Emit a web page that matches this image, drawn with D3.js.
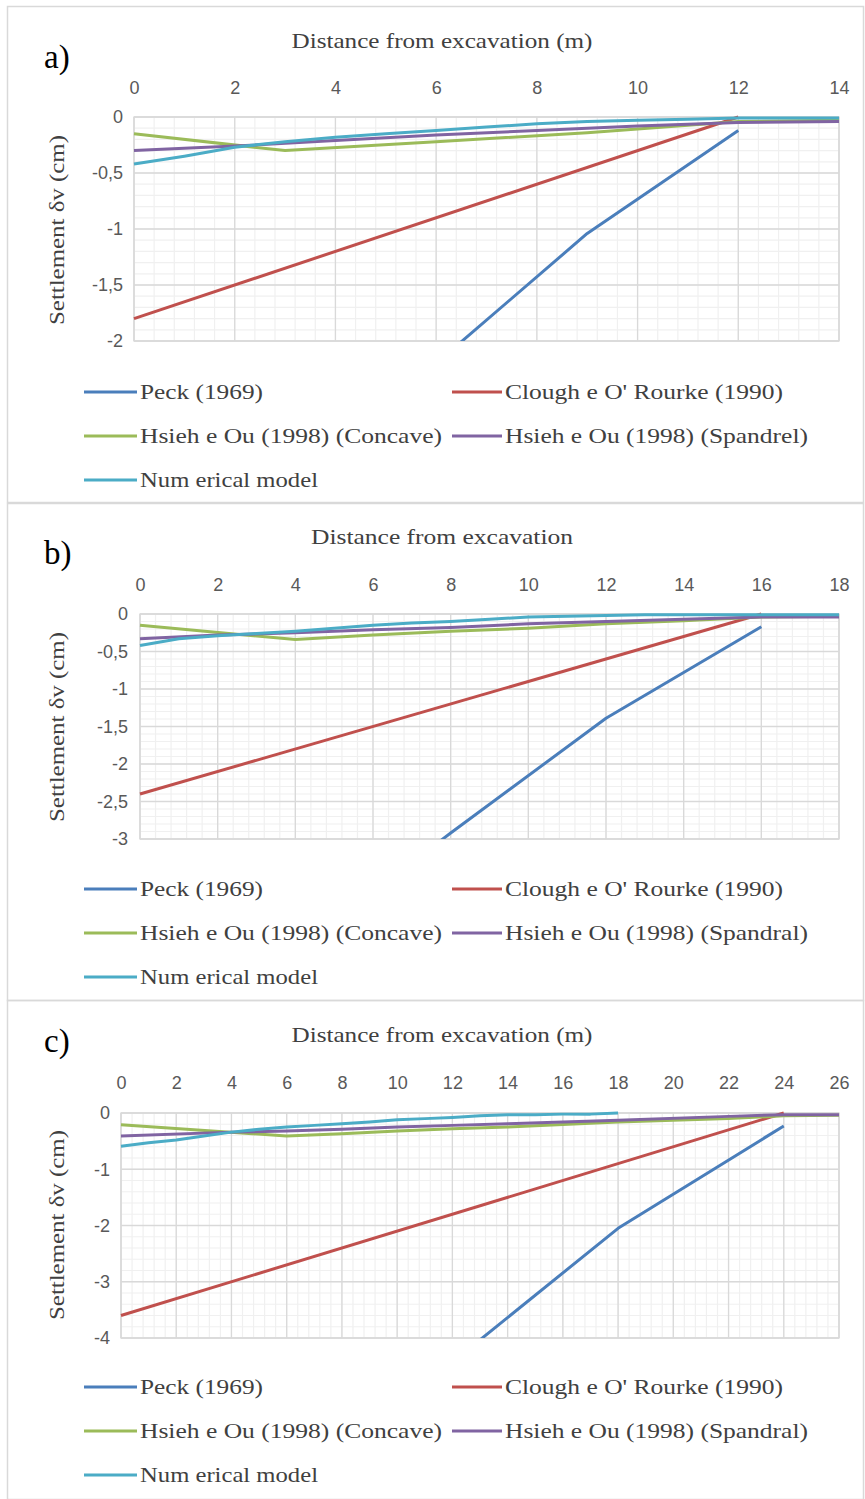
<!DOCTYPE html>
<html lang="en">
<head>
    <meta charset="UTF-8">
    <title>Settlement vs distance from excavation</title>
    <script src="https://d3js.org/d3.v7.min.js"></script>
    <style>
        body { margin: 0; background: #fff; }
    </style>
</head>
<body>
    <svg width="865" height="1499"></svg>

    <script>
        // Series names (legend order)
        const namesA = ["Peck (1969)", "Clough e O' Rourke (1990)", "Hsieh e Ou (1998) (Concave)", "Hsieh e Ou (1998) (Spandrel)", "Num erical model"];
        const namesBC = ["Peck (1969)", "Clough e O' Rourke (1990)", "Hsieh e Ou (1998) (Concave)", "Hsieh e Ou (1998) (Spandral)", "Num erical model"];
        const colors = ["#4a7ebb", "#c0504d", "#9bbb59", "#8064a2", "#4bacc6"];

        // Panel a) data
        const peckXA = [0, 3, 6, 9, 12];
        const peckYA = [-4.8, -3.4, -2.2, -1.04, -0.12];
        const cloughXA = [0, 12];
        const cloughYA = [-1.8, 0];
        const concXA = [0, 3, 6, 9, 12, 14];
        const concYA = [-0.15, -0.30, -0.22, -0.14, -0.04, -0.03];
        const spanXA = [0, 2, 4, 6, 8, 10, 12, 14];
        const spanYA = [-0.30, -0.26, -0.21, -0.16, -0.12, -0.08, -0.05, -0.04];
        const numXA = [0, 1, 2, 3, 4, 5, 6, 7, 8, 9, 10, 11, 12, 13, 14];
        const numYA = [-0.42, -0.35, -0.27, -0.22, -0.18, -0.15, -0.12, -0.09, -0.06, -0.04, -0.03, -0.02, -0.01, -0.01, -0.01];

        // Panel b) data
        const peckXB = [0, 4, 8, 12, 16];
        const peckYB = [-6.0, -4.5, -2.92, -1.39, -0.17];
        const cloughXB = [0, 16];
        const cloughYB = [-2.4, 0];
        const concXB = [0, 4, 6, 8, 10, 12, 14, 16, 18];
        const concYB = [-0.15, -0.34, -0.28, -0.23, -0.19, -0.13, -0.09, -0.04, -0.03];
        const spanXB = [0, 2, 4, 6, 8, 10, 12, 14, 16, 18];
        const spanYB = [-0.33, -0.28, -0.25, -0.21, -0.18, -0.13, -0.10, -0.07, -0.04, -0.04];
        const numXB = [0, 1, 2, 3, 4, 5, 6, 7, 8, 9, 10, 11, 12, 13, 14, 15, 16, 17, 18];
        const numYB = [-0.42, -0.33, -0.29, -0.26, -0.23, -0.19, -0.15, -0.12, -0.10, -0.07, -0.04, -0.03, -0.02, -0.01, -0.01, -0.01, -0.01, -0.01, -0.01];

        // Panel c) data
        const peckXC = [0, 6, 12, 18, 24];
        const peckYC = [-9.0, -6.8, -4.43, -2.05, -0.23];
        const cloughXC = [0, 24];
        const cloughYC = [-3.6, 0];
        const concXC = [0, 6, 8, 10, 12, 14, 18, 22, 24, 26];
        const concYC = [-0.21, -0.41, -0.37, -0.32, -0.28, -0.25, -0.16, -0.10, -0.05, -0.04];
        const spanXC = [0, 4, 6, 8, 10, 12, 14, 18, 22, 24, 26];
        const spanYC = [-0.41, -0.34, -0.32, -0.29, -0.25, -0.22, -0.19, -0.13, -0.06, -0.03, -0.03];
        const numXC = [0, 1, 2, 3, 4, 5, 6, 7, 8, 9, 10, 11, 12, 13, 14, 15, 16, 17, 18];
        const numYC = [-0.59, -0.53, -0.48, -0.41, -0.34, -0.29, -0.25, -0.22, -0.19, -0.16, -0.12, -0.10, -0.08, -0.05, -0.03, -0.03, -0.02, -0.02, 0];

        // Axis ticks
        const xTicksA = [0, 2, 4, 6, 8, 10, 12, 14];
        const xTicksB = [0, 2, 4, 6, 8, 10, 12, 14, 16, 18];
        const xTicksC = [0, 2, 4, 6, 8, 10, 12, 14, 16, 18, 20, 22, 24, 26];
        const yTicksA = [0, -0.5, -1, -1.5, -2];
        const yTicksB = [0, -0.5, -1, -1.5, -2, -2.5, -3];
        const yTicksC = [0, -1, -2, -3, -4];

        const svg = d3.select("svg");
        const serif = "'Liberation Serif', 'Times New Roman', serif";
        const sans = "'Liberation Sans Narrow', 'Liberation Sans', Arial, sans-serif";
        const fmt = v => String(v).replace(".", ",");

        const zip = (xs, ys) => xs.map((x, i) => ({x: x, y: ys[i]}));

        const panels = [
            {
                id: "a", label: "a)", box: [7, 6, 856, 496],
                plot: {l: 134, r: 839, t: 117, b: 341},
                xMax: 14, yMin: -2, xTicks: xTicksA, yTicks: yTicksA, xMinor: 0.4, yMinor: 0.1,
                title: "Distance from  excavation (m)", titleW: 301, titleY: 48,
                tickY: 94, yTickRight: 123, labelY: 68, yLabelY: 230, legendY: [392, 436, 480],
                names: namesA,
                series: [zip(peckXA, peckYA), zip(cloughXA, cloughYA), zip(concXA, concYA), zip(spanXA, spanYA), zip(numXA, numYA)]
            },
            {
                id: "b", label: "b)", box: [7, 503, 856, 497],
                plot: {l: 140, r: 839, t: 614, b: 839},
                xMax: 18, yMin: -3, xTicks: xTicksB, yTicks: yTicksB, xMinor: 0.4, yMinor: 0.1,
                title: "Distance from  excavation", titleW: 262, titleY: 544,
                tickY: 591, yTickRight: 128, labelY: 564, yLabelY: 727, legendY: [889, 933, 977],
                names: namesBC,
                series: [zip(peckXB, peckYB), zip(cloughXB, cloughYB), zip(concXB, concYB), zip(spanXB, spanYB), zip(numXB, numYB)]
            },
            {
                id: "c", label: "c)", box: [7, 1000, 856, 499],
                plot: {l: 121, r: 839, t: 1113, b: 1338},
                xMax: 26, yMin: -4, xTicks: xTicksC, yTicks: yTicksC, xMinor: 0.4, yMinor: 0.2,
                title: "Distance from  excavation (m)", titleW: 301, titleY: 1042,
                tickY: 1089, yTickRight: 110, labelY: 1052, yLabelY: 1225, legendY: [1387, 1431, 1475],
                names: namesBC,
                series: [zip(peckXC, peckYC), zip(cloughXC, cloughYC), zip(concXC, concYC), zip(spanXC, spanYC), zip(numXC, numYC)]
            }
        ];

        panels.forEach(function(p) {
            const g = svg.append("g");

            // Panel frame
            g.append("rect")
                .attr("x", p.box[0] + 0.5).attr("y", p.box[1] + 0.5)
                .attr("width", p.box[2]).attr("height", p.box[3])
                .attr("fill", "none").attr("stroke", "#d9d9d9").attr("stroke-width", 1.5);

            const x = d3.scaleLinear().domain([0, p.xMax]).range([p.plot.l, p.plot.r]);
            const y = d3.scaleLinear().domain([p.yMin, 0]).range([p.plot.b, p.plot.t]);

            // Minor gridlines
            const xMinorVals = d3.range(0, p.xMax + 1e-9, p.xMinor);
            const yMinorVals = d3.range(0, p.yMin - 1e-9, -p.yMinor);
            g.append("g").selectAll("line").data(xMinorVals).enter().append("line")
                .attr("x1", d => x(d)).attr("x2", d => x(d))
                .attr("y1", p.plot.t).attr("y2", p.plot.b)
                .attr("stroke", "#f0f0f0").attr("stroke-width", 1.2);
            g.append("g").selectAll("line").data(yMinorVals).enter().append("line")
                .attr("x1", p.plot.l).attr("x2", p.plot.r)
                .attr("y1", d => y(d)).attr("y2", d => y(d))
                .attr("stroke", "#f0f0f0").attr("stroke-width", 1.2);

            // Major gridlines
            g.append("g").selectAll("line").data(p.xTicks).enter().append("line")
                .attr("x1", d => x(d)).attr("x2", d => x(d))
                .attr("y1", p.plot.t).attr("y2", p.plot.b)
                .attr("stroke", "#d9d9d9").attr("stroke-width", 1.3);
            g.append("g").selectAll("line").data(p.yTicks).enter().append("line")
                .attr("x1", p.plot.l).attr("x2", p.plot.r)
                .attr("y1", d => y(d)).attr("y2", d => y(d))
                .attr("stroke", "#d9d9d9").attr("stroke-width", 1.3);

            // Plot area border
            g.append("rect")
                .attr("x", p.plot.l).attr("y", p.plot.t)
                .attr("width", p.plot.r - p.plot.l).attr("height", p.plot.b - p.plot.t)
                .attr("fill", "none").attr("stroke", "#d9d9d9").attr("stroke-width", 1.3);

            // Top x axis (labels only)
            const xAxis = g.append("g")
                .attr("transform", `translate(0,${p.tickY})`)
                .call(d3.axisTop(x).tickValues(p.xTicks).tickSize(0).tickPadding(0));
            xAxis.select(".domain").remove();
            xAxis.selectAll("text")
                .attr("fill", "#595959").style("font-family", sans).style("font-size", "18px");

            // Left y axis (labels only)
            const yAxis = g.append("g")
                .attr("transform", `translate(${p.yTickRight},0)`)
                .call(d3.axisLeft(y).tickValues(p.yTicks).tickSize(0).tickPadding(0).tickFormat(fmt));
            yAxis.select(".domain").remove();
            yAxis.selectAll("text")
                .attr("fill", "#595959").style("font-family", sans).style("font-size", "18px");

            // Clip for lines
            g.append("clipPath").attr("id", "clip-" + p.id)
                .append("rect")
                .attr("x", p.plot.l - 3).attr("y", p.plot.t - 3)
                .attr("width", p.plot.r - p.plot.l + 6).attr("height", p.plot.b - p.plot.t + 3);

            const line = d3.line().x(d => x(d.x)).y(d => y(d.y));
            g.append("g").attr("clip-path", `url(#clip-${p.id})`)
                .selectAll("path").data(p.series).enter().append("path")
                .attr("d", line)
                .attr("fill", "none")
                .attr("stroke", (d, i) => colors[i])
                .attr("stroke-width", 3)
                .attr("stroke-linejoin", "round");

            // Axis title
            g.append("text")
                .attr("x", 442).attr("y", p.titleY)
                .attr("text-anchor", "middle")
                .attr("textLength", p.titleW).attr("lengthAdjust", "spacingAndGlyphs")
                .style("font-family", serif).style("font-size", "21px").attr("fill", "#404040")
                .text(p.title);

            // Panel letter
            g.append("text")
                .attr("x", 44).attr("y", p.labelY)
                .style("font-family", serif).style("font-size", "33px").attr("fill", "#000")
                .text(p.label);

            // Y-axis title
            g.append("text")
                .attr("transform", `translate(64,${p.yLabelY}) rotate(-90)`)
                .attr("text-anchor", "middle")
                .attr("textLength", 190).attr("lengthAdjust", "spacingAndGlyphs")
                .style("font-family", serif).style("font-size", "20px").attr("fill", "#404040")
                .text("Settlement δv (cm)");

            // Legend
            const legendPos = [
                {lx: 84, tx: 140, w: 123},
                {lx: 452, tx: 505, w: 278},
                {lx: 84, tx: 140, w: 302},
                {lx: 452, tx: 505, w: 303},
                {lx: 84, tx: 140, w: 178}
            ];
            const rowOf = [0, 0, 1, 1, 2];
            p.names.forEach(function(name, i) {
                const lp = legendPos[i];
                const ly = p.legendY[rowOf[i]];
                g.append("line")
                    .attr("x1", lp.lx).attr("x2", lp.tx - 3)
                    .attr("y1", ly).attr("y2", ly)
                    .attr("stroke", colors[i]).attr("stroke-width", 3);
                g.append("text")
                    .attr("x", lp.tx).attr("y", ly + 7)
                    .attr("textLength", lp.w).attr("lengthAdjust", "spacingAndGlyphs")
                    .style("font-family", serif).style("font-size", "21px").attr("fill", "#404040")
                    .text(name);
            });
        });
    </script>
</body>
</html>
